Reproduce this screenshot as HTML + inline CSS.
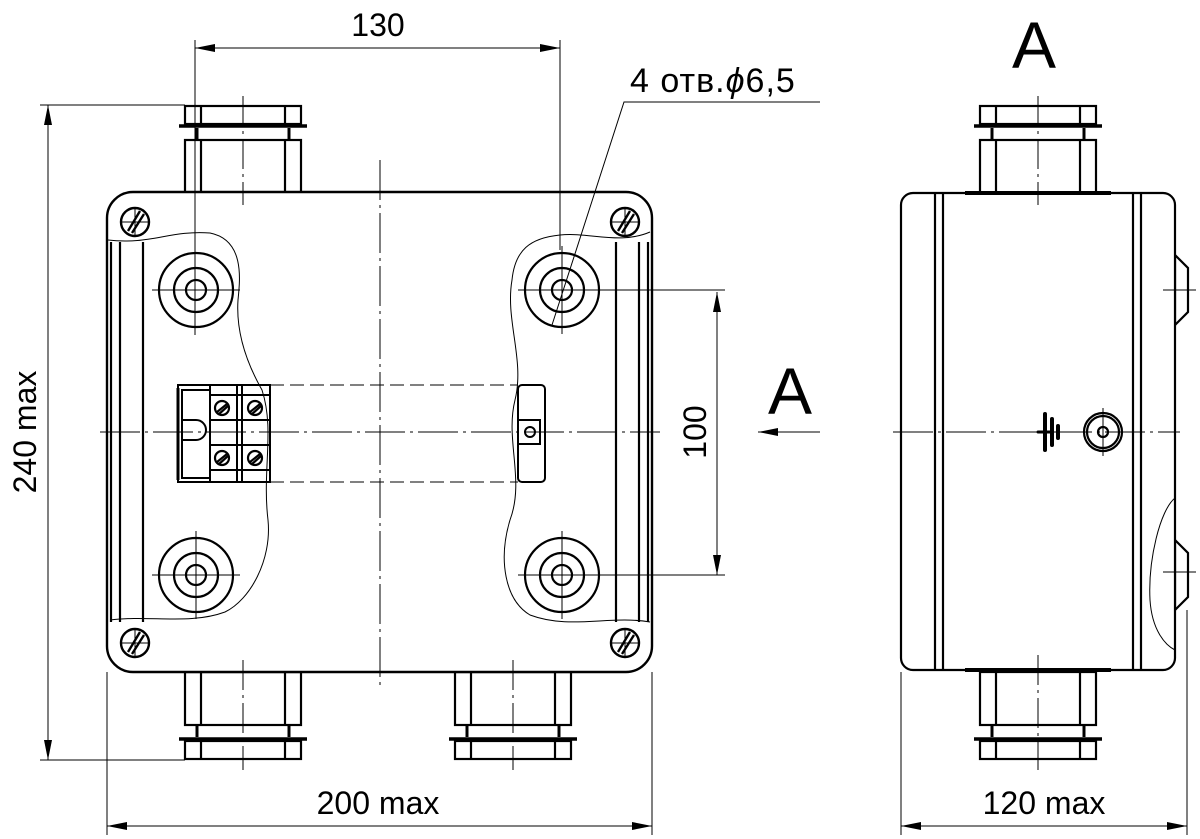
<!DOCTYPE html>
<html><head><meta charset="utf-8"><style>
html,body{margin:0;padding:0;background:#fff;}
svg{display:block;}
text{font-family:"Liberation Sans",sans-serif;fill:#000;}
</style></head><body>
<svg width="1200" height="839" viewBox="0 0 1200 839" xmlns="http://www.w3.org/2000/svg">
<defs>
<g id="gland" fill="none" stroke="#000" stroke-width="2.2">
  <rect x="-58" y="0" width="116" height="18"/>
  <line x1="-42" y1="0" x2="-42" y2="18"/><line x1="42" y1="0" x2="42" y2="18"/>
  <line x1="-64" y1="20" x2="64" y2="20" stroke-width="3.5"/>
  <line x1="-46" y1="22" x2="-46" y2="34" stroke-width="3"/><line x1="46" y1="22" x2="46" y2="34" stroke-width="3"/>
  <rect x="-58" y="34" width="116" height="53"/>
  <line x1="-42" y1="34" x2="-42" y2="87"/><line x1="42" y1="34" x2="42" y2="87"/>
</g>
<g id="hole" fill="none" stroke="#000" stroke-width="2.2">
  <circle r="37"/><circle r="22"/><circle r="10"/>
</g>
<g id="screw" fill="none" stroke="#000" stroke-width="2.4">
  <circle r="14"/><line x1="-7" y1="9" x2="5" y2="-11"/><line x1="-3" y1="11" x2="9" y2="-8"/>
</g>
<g id="tscrew" fill="none" stroke="#000" stroke-width="2.2">
  <circle r="7"/><line x1="-5" y1="4" x2="5" y2="-4"/><line x1="-3" y1="6" x2="6" y2="-2"/>
</g>
<marker id="ar" viewBox="0 0 20 8" refX="20" refY="4" markerWidth="20" markerHeight="8" orient="auto-start-reverse" markerUnits="userSpaceOnUse">
  <path d="M0,0 L20,4 L0,8 Z" fill="#000"/>
</marker>
</defs>

<use href="#gland" transform="translate(243,106)"/>
<use href="#gland" transform="translate(243,759) scale(1,-1)"/>
<use href="#gland" transform="translate(513,759) scale(1,-1)"/>
<rect x="107" y="192" width="545" height="480" rx="26" fill="#fff" stroke="#000" stroke-width="2.4"/>
<g stroke="#000" stroke-width="2.2" fill="none">
  <line x1="111" y1="242" x2="111" y2="622"/><line x1="120" y1="242" x2="120" y2="622"/><line x1="143" y1="242" x2="143" y2="622"/>
  <line x1="648" y1="242" x2="648" y2="622"/><line x1="639" y1="242" x2="639" y2="622"/><line x1="616" y1="242" x2="616" y2="622"/>
</g>
<g stroke="#000" stroke-width="1" fill="none">
  <path d="M108,240 C150,245 170,230 210,233 C245,240 240,280 238,300 C236,330 245,360 262,390 C275,430 262,470 268,520 C272,560 250,600 225,612 C190,625 150,615 110,620"/>
  <path d="M650,232 C620,245 590,232 560,235 C530,238 515,250 512,280 C505,320 525,360 515,400 C505,440 525,480 510,520 C498,560 505,600 530,615 C570,630 610,615 650,622"/>
</g>
<use href="#hole" x="196" y="290"/><use href="#hole" x="562" y="290"/>
<use href="#hole" x="196" y="575"/><use href="#hole" x="562" y="575"/>
<use href="#screw" x="135" y="222"/><use href="#screw" x="625" y="222"/>
<use href="#screw" x="135" y="643"/><use href="#screw" x="625" y="643"/>
<g stroke="#000" stroke-width="2" fill="none">
  <rect x="178" y="385" width="92" height="97"/>
  <rect x="182" y="390" width="28" height="88"/>
  <line x1="178" y1="388" x2="178" y2="480" stroke-width="3"/>
  <path d="M182,440 L196,440 A10,10 0 0 0 196,420 L182,420"/>
  <line x1="210" y1="385" x2="210" y2="482"/>
  <line x1="237" y1="385" x2="237" y2="482"/><line x1="242" y1="385" x2="242" y2="482"/>
  <line x1="210" y1="395" x2="270" y2="395"/><line x1="210" y1="420" x2="270" y2="420"/>
  <line x1="210" y1="445" x2="270" y2="445"/><line x1="210" y1="470" x2="270" y2="470"/>
  <rect x="518" y="385" width="27" height="97" rx="4"/>
  <rect x="518" y="420" width="22" height="24"/>
  <circle cx="530" cy="432" r="5"/>
</g>
<use href="#tscrew" x="222" y="408"/><use href="#tscrew" x="255" y="408"/>
<use href="#tscrew" x="222" y="458"/><use href="#tscrew" x="255" y="458"/>
<g stroke="#000" stroke-width="1" stroke-dasharray="14,6" fill="none">
  <line x1="270" y1="385" x2="518" y2="385"/><line x1="270" y1="482" x2="518" y2="482"/>
</g>
<g stroke="#000" stroke-width="1" fill="none">
  <line x1="380" y1="160" x2="380" y2="690" stroke-dasharray="40,5,3,5"/>
  <line x1="100" y1="432" x2="660" y2="432" stroke-dasharray="40,5,3,5"/>
  <line x1="243" y1="96" x2="243" y2="205" stroke-dasharray="30,5,3,5"/>
  <line x1="243" y1="660" x2="243" y2="770" stroke-dasharray="30,5,3,5"/>
  <line x1="513" y1="660" x2="513" y2="770" stroke-dasharray="30,5,3,5"/>
  <line x1="120" y1="222" x2="150" y2="222"/><line x1="135" y1="207" x2="135" y2="237"/>
  <line x1="610" y1="222" x2="640" y2="222"/><line x1="625" y1="207" x2="625" y2="237"/>
  <line x1="120" y1="643" x2="150" y2="643"/><line x1="135" y1="628" x2="135" y2="658"/>
  <line x1="610" y1="643" x2="640" y2="643"/><line x1="625" y1="628" x2="625" y2="658"/>
  <line x1="152" y1="290" x2="240" y2="290"/><line x1="152" y1="575" x2="240" y2="575"/>
  <line x1="518" y1="290" x2="725" y2="290"/><line x1="518" y1="575" x2="725" y2="575"/>
  <line x1="562" y1="246" x2="562" y2="334"/><line x1="562" y1="531" x2="562" y2="619"/>
  <line x1="196" y1="531" x2="196" y2="619"/>
  <line x1="195" y1="40" x2="195" y2="335"/><line x1="560" y1="40" x2="560" y2="250"/>
  <line x1="195" y1="48" x2="560" y2="48" marker-start="url(#ar)" marker-end="url(#ar)"/>
  <line x1="40" y1="105" x2="185" y2="105"/><line x1="40" y1="760" x2="185" y2="760"/>
  <line x1="48" y1="105" x2="48" y2="760" marker-start="url(#ar)" marker-end="url(#ar)"/>
  <line x1="107" y1="672" x2="107" y2="835"/><line x1="652" y1="672" x2="652" y2="835"/>
  <line x1="107" y1="826" x2="652" y2="826" marker-start="url(#ar)" marker-end="url(#ar)"/>
  <line x1="717" y1="292" x2="717" y2="575" marker-start="url(#ar)" marker-end="url(#ar)"/>
  <polyline points="820,102 624,102 552,325"/>
  <line x1="820" y1="432" x2="758" y2="432" marker-end="url(#ar)"/>
</g>
<text x="378" y="36" font-size="32" text-anchor="middle">130</text>
<text x="630" y="92" font-size="34" letter-spacing="1">4 отв.<tspan font-style="italic">ϕ</tspan>6,5</text>
<text transform="translate(36,432) rotate(-90)" font-size="32" text-anchor="middle">240 max</text>
<text transform="translate(706,432) rotate(-90)" font-size="32" text-anchor="middle">100</text>
<text x="378" y="814" font-size="32" text-anchor="middle">200 max</text>
<text x="1034" y="68" font-size="66" text-anchor="middle">A</text>
<text x="790" y="414" font-size="66" text-anchor="middle">A</text>

<use href="#gland" transform="translate(1038,106)"/>
<use href="#gland" transform="translate(1038,759) scale(1,-1)"/>
<g stroke="#000" stroke-width="2.2" fill="#fff">
  <path d="M1175,255 L1188,268 L1188,312 L1175,325 Z"/>
  <path d="M1175,540 L1188,553 L1188,597 L1175,610 Z"/>
  <rect x="901" y="193" width="274" height="477" rx="12"/>
  <line x1="935" y1="193" x2="935" y2="670" fill="none"/><line x1="943" y1="193" x2="943" y2="670" fill="none"/>
  <line x1="1133" y1="193" x2="1133" y2="670" fill="none"/><line x1="1141" y1="193" x2="1141" y2="670" fill="none"/>
  <line x1="965" y1="193" x2="1111" y2="193" stroke-width="4" fill="none"/>
  <line x1="965" y1="670" x2="1111" y2="670" stroke-width="4" fill="none"/>
  <circle cx="1103" cy="432" r="19" fill="none"/><circle cx="1103" cy="432" r="16" fill="none"/><circle cx="1103" cy="432" r="5" fill="none"/>
</g>
<path d="M1175,498 C1160,510 1148,560 1150,600 C1152,630 1165,645 1175,650" fill="none" stroke="#000" stroke-width="1"/>
<g stroke="#000" stroke-linecap="round" fill="none">
  <line x1="1038" y1="432" x2="1050" y2="432" stroke-width="3"/>
  <line x1="1045" y1="414" x2="1045" y2="450" stroke-width="4"/>
  <line x1="1052" y1="419" x2="1052" y2="445" stroke-width="4"/>
  <line x1="1058" y1="426" x2="1058" y2="438" stroke-width="4"/>
</g>
<g stroke="#000" stroke-width="1" fill="none">
  <line x1="893" y1="432" x2="1180" y2="432" stroke-dasharray="40,5,3,5"/>
  <line x1="1103" y1="408" x2="1103" y2="456"/>
  <line x1="1038" y1="96" x2="1038" y2="205" stroke-dasharray="30,5,3,5"/>
  <line x1="1038" y1="655" x2="1038" y2="770" stroke-dasharray="30,5,3,5"/>
  <line x1="1163" y1="290" x2="1196" y2="290"/><line x1="1163" y1="572" x2="1196" y2="572"/>
  <line x1="901" y1="672" x2="901" y2="835"/><line x1="1187" y1="610" x2="1187" y2="835"/>
  <line x1="901" y1="826" x2="1187" y2="826" marker-start="url(#ar)" marker-end="url(#ar)"/>
</g>
<text x="1044" y="814" font-size="32" text-anchor="middle">120 max</text>
</svg>
</body></html>
